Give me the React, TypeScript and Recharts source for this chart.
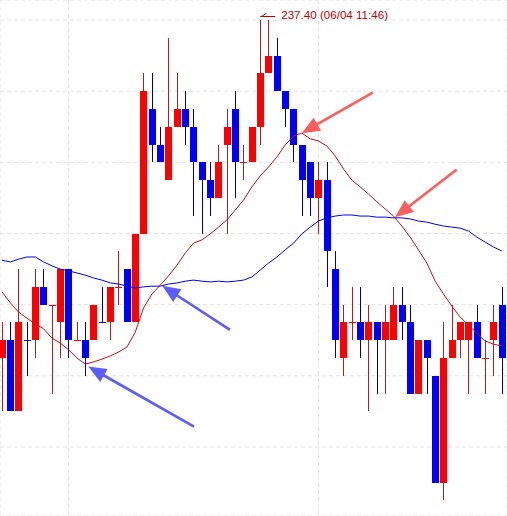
import React from 'react';
import {
  ComposedChart,
  Bar,
  Line,
  XAxis,
  YAxis,
  CartesianGrid,
  ReferenceLine,
  ReferenceDot,
} from 'recharts';

// ---- data ----
const opens = [
  236.45, 236.5, 236.3, 236.5, 236.5, 236.65, 236.6, 236.55, 236.7, 236.5,
  236.5, 236.5, 236.55, 236.55, 236.65, 236.7, 236.55, 236.8, 237.15, 237.05,
  236.95, 237.1, 237.15, 237.1, 237.0, 236.95, 236.9, 237.05, 237.15, 237.0,
  237.0, 237.1, 237.25, 237.3, 237.2, 237.15, 237.05, 237.0, 236.9, 236.95,
  236.7, 236.45, 236.55, 236.55, 236.5, 236.55, 236.5, 236.5, 236.6, 236.55,
  236.35, 236.5, 236.4, 236.1, 236.45, 236.5, 236.5, 236.55, 236.45, 236.5,
  236.6,
];
const highs = [
  236.55, 236.55, 236.7, 236.55, 236.7, 236.7, 236.6, 236.7, 236.7, 236.55,
  236.55, 236.6, 236.65, 236.65, 236.75, 236.7, 236.8, 237.25, 237.25, 237.1,
  237.35, 237.25, 237.2, 237.15, 237.0, 237.0, 237.05, 237.15, 237.2, 237.05,
  237.1, 237.4, 237.4, 237.35, 237.2, 237.15, 237.05, 237.0, 237.0, 237.0,
  236.75, 236.6, 236.65, 236.65, 236.6, 236.55, 236.6, 236.65, 236.65, 236.6,
  236.5, 236.5, 236.4, 236.55, 236.6, 236.55, 236.55, 236.6, 236.5, 236.6,
  236.65,
];
const lows = [
  236.3, 236.3, 236.3, 236.4, 236.45, 236.6, 236.35, 236.45, 236.45, 236.5,
  236.4, 236.5, 236.55, 236.5, 236.6, 236.55, 236.55, 236.8, 237.0, 237.0,
  236.95, 237.1, 237.05, 236.85, 236.8, 236.85, 236.9, 236.8, 236.9, 236.95,
  237.0, 237.05, 237.25, 237.2, 237.1, 237.0, 236.85, 236.85, 236.8, 236.65,
  236.45, 236.4, 236.5, 236.45, 236.3, 236.35, 236.35, 236.5, 236.5, 236.35,
  236.35, 236.35, 236.1, 236.05, 236.45, 236.45, 236.35, 236.45, 236.35, 236.4,
  236.35,
];
const closes = [
  236.5, 236.3, 236.55, 236.5, 236.65, 236.6, 236.6, 236.7, 236.5, 236.5,
  236.45, 236.6, 236.55, 236.65, 236.65, 236.55, 236.8, 237.2, 237.05, 237.0,
  237.1, 237.15, 237.1, 237.0, 236.95, 236.9, 237.0, 237.1, 237.0, 237.0,
  237.1, 237.25, 237.3, 237.2, 237.15, 237.05, 236.95, 236.9, 236.95, 236.75,
  236.5, 236.55, 236.55, 236.5, 236.55, 236.5, 236.55, 236.6, 236.55, 236.35,
  236.5, 236.45, 236.1, 236.45, 236.5, 236.55, 236.55, 236.45, 236.45, 236.55,
  236.45,
];
const maShort = [
  236.636, 236.605, 236.579, 236.562, 236.546, 236.532, 236.506, 236.492, 236.473, 236.45,
  236.433, 236.439, 236.447, 236.456, 236.467, 236.481, 236.523, 236.591, 236.63, 236.655,
  236.681, 236.711, 236.745, 236.773, 236.782, 236.799, 236.818, 236.838, 236.866, 236.894,
  236.931, 236.962, 236.987, 237.015, 237.049, 237.074, 237.082, 237.066, 237.06, 237.046,
  237.018, 236.981, 236.95, 236.931, 236.911, 236.889, 236.869, 236.849, 236.821, 236.79,
  236.754, 236.717, 236.666, 236.63, 236.596, 236.565, 236.543, 236.52, 236.498, 236.489,
  236.484,
];
const maLong = [
  236.725, 236.72, 236.728, 236.734, 236.734, 236.72, 236.709, 236.7, 236.695, 236.689,
  236.683, 236.675, 236.669, 236.661, 236.658, 236.652, 236.647, 236.65, 236.652, 236.652,
  236.658, 236.661, 236.666, 236.669, 236.666, 236.664, 236.666, 236.664, 236.666, 236.669,
  236.678, 236.697, 236.717, 236.734, 236.754, 236.773, 236.799, 236.818, 236.835, 236.844,
  236.849, 236.852, 236.852, 236.849, 236.849, 236.846, 236.846, 236.844, 236.844, 236.841,
  236.835, 236.832, 236.826, 236.821, 236.818, 236.815, 236.807, 236.79, 236.776, 236.762,
  236.751,
];
const downDoji = [3, 12];
const gridPrices = [237.4, 237.2, 237.0, 236.8, 236.6, 236.4, 236.2];
const gridCandles = [8, 38];
const peakIndex = 31;
const peakPrice = 237.4;
const peakLabel = '237.40 (06/04 11:46)';
const redArrows = [
  { from: [44.5, 237.196], to: [35.98, 237.082] },
  { from: [54.59, 236.98], to: [47.18, 236.846] },
];
const blueArrows = [
  { from: [27.37, 236.529], to: [19.24, 236.653] },
  { from: [23.05, 236.257], to: [10.36, 236.426] },
];

const data = opens.map((o, i) => ({
  i,
  open: o,
  high: highs[i],
  low: lows[i],
  close: closes[i],
  range: [lows[i], highs[i]],
  maShort: maShort[i],
  maLong: maLong[i],
}));

const Candle = (props: any) => {
  const { x, y, width, height, payload } = props;
  if (!payload) return null;
  const { open, close, high, low, i } = payload;
  const k = height / (high - low);
  const py = (p: number) => y + (high - p) * k;
  const cx = Math.floor(x + width / 2);
  const up = close > open || (close === open && !downDoji.includes(i));
  const bodyColor = up ? '#ff0000' : '#0000ff';
  const wickColor = up ? '#b02020' : '#000090';
  const top = Math.round(py(Math.max(open, close)));
  const bot = Math.round(py(Math.min(open, close)));
  const yh = Math.round(y);
  const yl = Math.round(y + height);
  return (
    <g shapeRendering="crispEdges">
      <line x1={cx + 0.5} x2={cx + 0.5} y1={yh} y2={yl} stroke={wickColor} strokeWidth={1} />
      {bot - top >= 1 ? (
        <rect x={cx - 3} y={top} width={7} height={bot - top} fill={bodyColor} />
      ) : (
        <line x1={cx - 3} x2={cx + 4} y1={top + 0.5} y2={top + 0.5} stroke={bodyColor} strokeWidth={1} />
      )}
    </g>
  );
};

const makeArrow = (color: string) => (props: any) => {
  const { x1, y1, x2, y2 } = props;
  const dx = x2 - x1;
  const dy = y2 - y1;
  const len = Math.hypot(dx, dy) || 1;
  const ux = dx / len;
  const uy = dy / len;
  const hl = 18;
  const hw = 7.5;
  const bx = x2 - ux * hl;
  const by = y2 - uy * hl;
  const nx = -uy;
  const ny = ux;
  return (
    <g>
      <line x1={x1} y1={y1} x2={bx + ux * 3} y2={by + uy * 3} stroke={color} strokeWidth={2.6} />
      <polygon
        points={`${x2},${y2} ${bx + nx * hw},${by + ny * hw} ${bx - nx * hw},${by - ny * hw}`}
        fill={color}
      />
    </g>
  );
};

const PeakLabel = (props: any) => {
  const { cx, cy } = props;
  if (cx == null || cy == null) return null;
  const ly = Math.round(cy - 4) + 0.5;
  return (
    <g>
      <path
        d={`M${cx} ${ly} H${cx + 15} M${cx + 1} ${ly} L${cx + 6} ${ly - 3}`}
        stroke="#c00000"
        strokeWidth={1}
        fill="none"
      />
      <text
        x={cx + 21}
        y={cy - 1}
        fill="#c00000"
        fontSize={11.6}
        fontFamily="'Liberation Sans', Arial, sans-serif"
      >
        {peakLabel}
      </text>
    </g>
  );
};

export default function App() {
  return (
    <div style={{ position: 'absolute', left: 0, top: 0, width: 507, height: 516, background: '#fff' }}>
      <ComposedChart width={507} height={516} data={data} margin={{ top: 0, right: 0, bottom: 0, left: 0 }}>
        <XAxis
          dataKey="i"
          type="number"
          domain={[-0.24, 60.6264]}
          allowDataOverflow
          ticks={gridCandles}
          hide
        />
        <YAxis type="number" domain={[236.0061, 237.4562]} allowDataOverflow ticks={gridPrices} hide />
        <CartesianGrid stroke="#e2e2e2" strokeDasharray="4 3" />
        <Bar dataKey="range" barSize={7} shape={Candle} isAnimationActive={false} />
        <Line
          dataKey="maShort"
          type="linear"
          stroke="#c01010"
          strokeWidth={1}
          dot={false}
          activeDot={false}
          isAnimationActive={false}
        />
        <Line
          dataKey="maLong"
          type="linear"
          stroke="#0000e6"
          strokeWidth={1}
          dot={false}
          activeDot={false}
          isAnimationActive={false}
        />
        {redArrows.map((a, k) => (
          <ReferenceLine
            key={'r' + k}
            segment={[{ x: a.from[0], y: a.from[1] }, { x: a.to[0], y: a.to[1] }]}
            shape={makeArrow('#ff5c5c')}
            ifOverflow="visible"
          />
        ))}
        {blueArrows.map((a, k) => (
          <ReferenceLine
            key={'b' + k}
            segment={[{ x: a.from[0], y: a.from[1] }, { x: a.to[0], y: a.to[1] }]}
            shape={makeArrow('#5c5cff')}
            ifOverflow="visible"
          />
        ))}
        <ReferenceDot x={peakIndex} y={peakPrice} r={0} shape={PeakLabel} ifOverflow="visible" />
      </ComposedChart>
    </div>
  );
}
